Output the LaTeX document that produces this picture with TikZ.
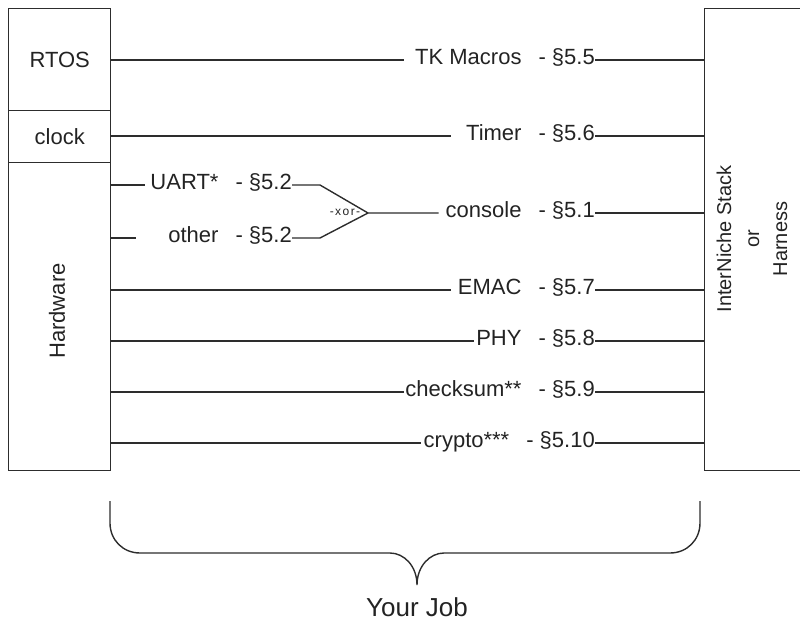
\documentclass[tikz,border=0pt]{standalone}
\usepackage{fontspec}
\setmainfont{Liberation Sans}
\newfontfamily\xorfont[LetterSpace=12]{Liberation Sans}
\definecolor{linec}{RGB}{45,45,45}
\definecolor{txtc}{RGB}{35,35,35}
\newcommand\mysec[1]{\hspace{17pt}- §#1\hspace{2pt}}
\begin{document}
\begin{tikzpicture}[x=1pt,y=-1pt]
\tikzset{
  ln/.style={line width=1.4pt, draw=linec},
  box/.style={ln, inner sep=0pt, anchor=north west, text=txtc, font=\fontsize{22}{26}\selectfont},
  lbl/.style={inner sep=0pt, anchor=east, text height=15pt, text depth=6pt, font=\fontsize{22}{26}\selectfont, text=txtc},
}
\useasboundingbox (0,0) rectangle (800,621);
% left column
\node[box, minimum width=102pt, minimum height=102pt] (rtos) at (8,8) {RTOS};
\node[box, minimum width=102pt, minimum height=52pt] (clock) at (8,110) {clock};
\node[box, minimum width=102pt, minimum height=308pt] (hw) at (8,162) {};
\node[rotate=90, text=txtc, font=\fontsize{22}{26}\selectfont] (hwt) at (57,311) {Hardware};
% right box
\node[box, minimum width=100pt, minimum height=462pt] (stack) at (704,8) {};
\node[rotate=90, align=center, text=txtc, font=\fontsize{20}{28}\selectfont] (stackt) at (752,239) {InterNiche Stack\\or\\Harness};
% labels
\node[lbl] (tk) at (595,60) {\hspace{11pt}TK Macros\mysec{5.5}};
\node[lbl] (timer) at (595,136) {\hspace{15pt}Timer\mysec{5.6}};
\node[lbl] (uart) at (292,185) {\hspace{5pt}UART*\mysec{5.2}};
\node[lbl] (other) at (292,238) {\hspace{32pt}other\mysec{5.2}};
\node[lbl] (console) at (595,213) {\hspace{7pt}console\mysec{5.1}};
\node[lbl] (emac) at (595,290) {\hspace{7pt}EMAC\mysec{5.7}};
\node[lbl] (phy) at (595,341) {\hspace{2pt}PHY\mysec{5.8}};
\node[lbl] (cks) at (595,392) {\hspace{1pt}checksum**\mysec{5.9}};
\node[lbl] (cry) at (595,443) {\hspace{3pt}crypto***\mysec{5.10}};
% xor junction
\coordinate (xu) at (320,185);
\coordinate (xl) at (320,238);
\coordinate (xt) at (368,213);
\node[text=txtc, inner sep=0pt] (xor) at (345,212) {\xorfont\fontsize{12}{12}\selectfont -xor-};
% connectors
\draw[ln] (rtos.east |- tk) -- (tk.west);
\draw[ln] (tk.east) -- (tk -| stack.west);
\draw[ln] (clock.east |- timer) -- (timer.west);
\draw[ln] (timer.east) -- (timer -| stack.west);
\draw[ln] (hw.east |- uart) -- (uart.west);
\draw[ln] (hw.east |- other) -- (other.west);
\draw[ln] (uart.east) -- (xu) -- (xt) -- (console.west);
\draw[ln] (other.east) -- (xl) -- (xt);
\draw[ln] (console.east) -- (console -| stack.west);
\draw[ln] (hw.east |- emac) -- (emac.west);
\draw[ln] (emac.east) -- (emac -| stack.west);
\draw[ln] (hw.east |- phy) -- (phy.west);
\draw[ln] (phy.east) -- (phy -| stack.west);
\draw[ln] (hw.east |- cks) -- (cks.west);
\draw[ln] (cks.east) -- (cks -| stack.west);
\draw[ln] (hw.east |- cry) -- (cry.west);
\draw[ln] (cry.east) -- (cry -| stack.west);
% brace
\draw[ln] (110,501) -- (110,523) .. controls (110,540) and (123,553) .. (140,553) -- (390,553)
  .. controls (404,553) and (417,566) .. (417,585)
  .. controls (417,566) and (430,553) .. (444,553) -- (670,553)
  .. controls (687,553) and (700,540) .. (700,523) -- (700,501);
\node[anchor=base, inner sep=0pt, text depth=0pt, text=txtc, font=\fontsize{26}{30}\selectfont] (job) at (417,616) {Your Job};
\end{tikzpicture}
\end{document}
